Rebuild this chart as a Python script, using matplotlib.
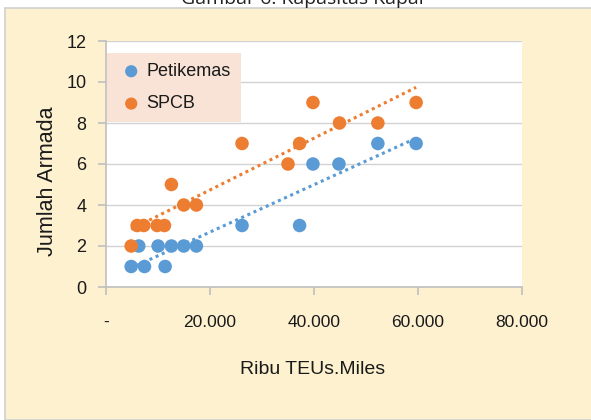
import matplotlib
matplotlib.use("Agg")
import matplotlib.pyplot as plt
import matplotlib.patches as patches
import numpy as np

# Ribu TEUs.Miles vs Jumlah Armada
peti_x = [4840, 7400, 11370, 6300, 10020, 12580, 14950, 17380,
          26160, 37230, 39800, 44800, 52280, 59640]
peti_y = [1, 1, 1, 2, 2, 2, 2, 2, 3, 3, 6, 6, 7, 7]

spcb_x = [4840, 5990, 7260, 9830, 11240, 12580, 14950, 17380,
          26160, 35000, 37230, 39800, 44900, 52280, 59640]
spcb_y = [2, 3, 3, 3, 3, 5, 4, 4, 7, 6, 7, 9, 8, 8, 9]

xticks = [0, 20000, 40000, 60000, 80000]
xticklabels = ["-", "20.000", "40.000", "60.000", "80.000"]
yticks = [0, 2, 4, 6, 8, 10, 12]

blue = "#5B9BD5"
orange = "#ED7D31"
font = ["Liberation Sans", "DejaVu Sans"]

fig = plt.figure(figsize=(5.91, 4.20), dpi=100, facecolor="white")

# beige chart frame
frame = patches.Rectangle((5 / 591, 0), 1, (420 - 8) / 420, transform=fig.transFigure,
                          facecolor="#FDF1D0", edgecolor="#D0D0D0", lw=1.2, zorder=-5)
fig.patches.append(frame)

fig.text(302 / 591, 1 - 4 / 420, "Gambar 6. Kapasitas Kapal", ha="center", va="baseline",
         fontsize=14, family=["Open Sans", "DejaVu Sans"], color="#222222")

ax = fig.add_axes([106 / 591, 1 - 287 / 420, (522 - 106) / 591, (287 - 41) / 420])
ax.set_zorder(2)
ax.set_facecolor("white")

ax.set_xlim(0, 80000)
ax.set_ylim(0, 12)
ax.set_xticks(xticks)
ax.set_xticklabels(xticklabels)
ax.set_yticks(yticks)

ax.grid(axis="y", color="#D2D2D2", lw=1.0)
ax.set_axisbelow(True)

for side in ["top", "right"]:
    ax.spines[side].set_visible(False)
for side in ["left", "bottom"]:
    ax.spines[side].set_color("#BFBFBF")
    ax.spines[side].set_linewidth(1.2)

ax.tick_params(axis="both", direction="out", color="#BFBFBF", length=6, width=1.2)
ax.tick_params(axis="y", pad=8, labelsize=13)
ax.tick_params(axis="x", pad=14, labelsize=12.5)
for lbl in ax.get_xticklabels() + ax.get_yticklabels():
    lbl.set_family(font)
    lbl.set_color("#1A1A1A")

ax.scatter(peti_x, peti_y, s=95, color=blue, edgecolors="none", label="Petikemas", zorder=3)
ax.scatter(spcb_x, spcb_y, s=95, color=orange, edgecolors="none", label="SPCB", zorder=3)

# linear trend lines
for xs, ys, c in [(peti_x, peti_y, blue), (spcb_x, spcb_y, orange)]:
    k, b = np.polyfit(xs, ys, 1)
    tx = np.array([min(xs), max(xs)])
    ax.plot(tx, k * tx + b, color=c, lw=2.2, linestyle=(0, (1, 1.2)), zorder=2)

leg = ax.legend(loc="upper left", bbox_to_anchor=(0.002, 0.951), borderaxespad=0,
                frameon=True, fancybox=False, facecolor="#F9E3D6", edgecolor="none",
                framealpha=1, prop={"family": font, "size": 13},
                handletextpad=0.05, labelspacing=0.85, borderpad=0.55,
                handlelength=1.6, markerscale=0.9)
for t in leg.get_texts():
    t.set_color("#1A1A1A")

fig.text(48 / 591, 1 - 181 / 420, "Jumlah Armada", rotation=90, ha="center", va="center",
         fontsize=15.5, family=font, color="#1A1A1A")
fig.text(313 / 591, 1 - 370 / 420, "Ribu TEUs.Miles", ha="center", va="center",
         fontsize=14, family=font, color="#1A1A1A")

fig.savefig("out.png", dpi=100, facecolor=fig.get_facecolor())
